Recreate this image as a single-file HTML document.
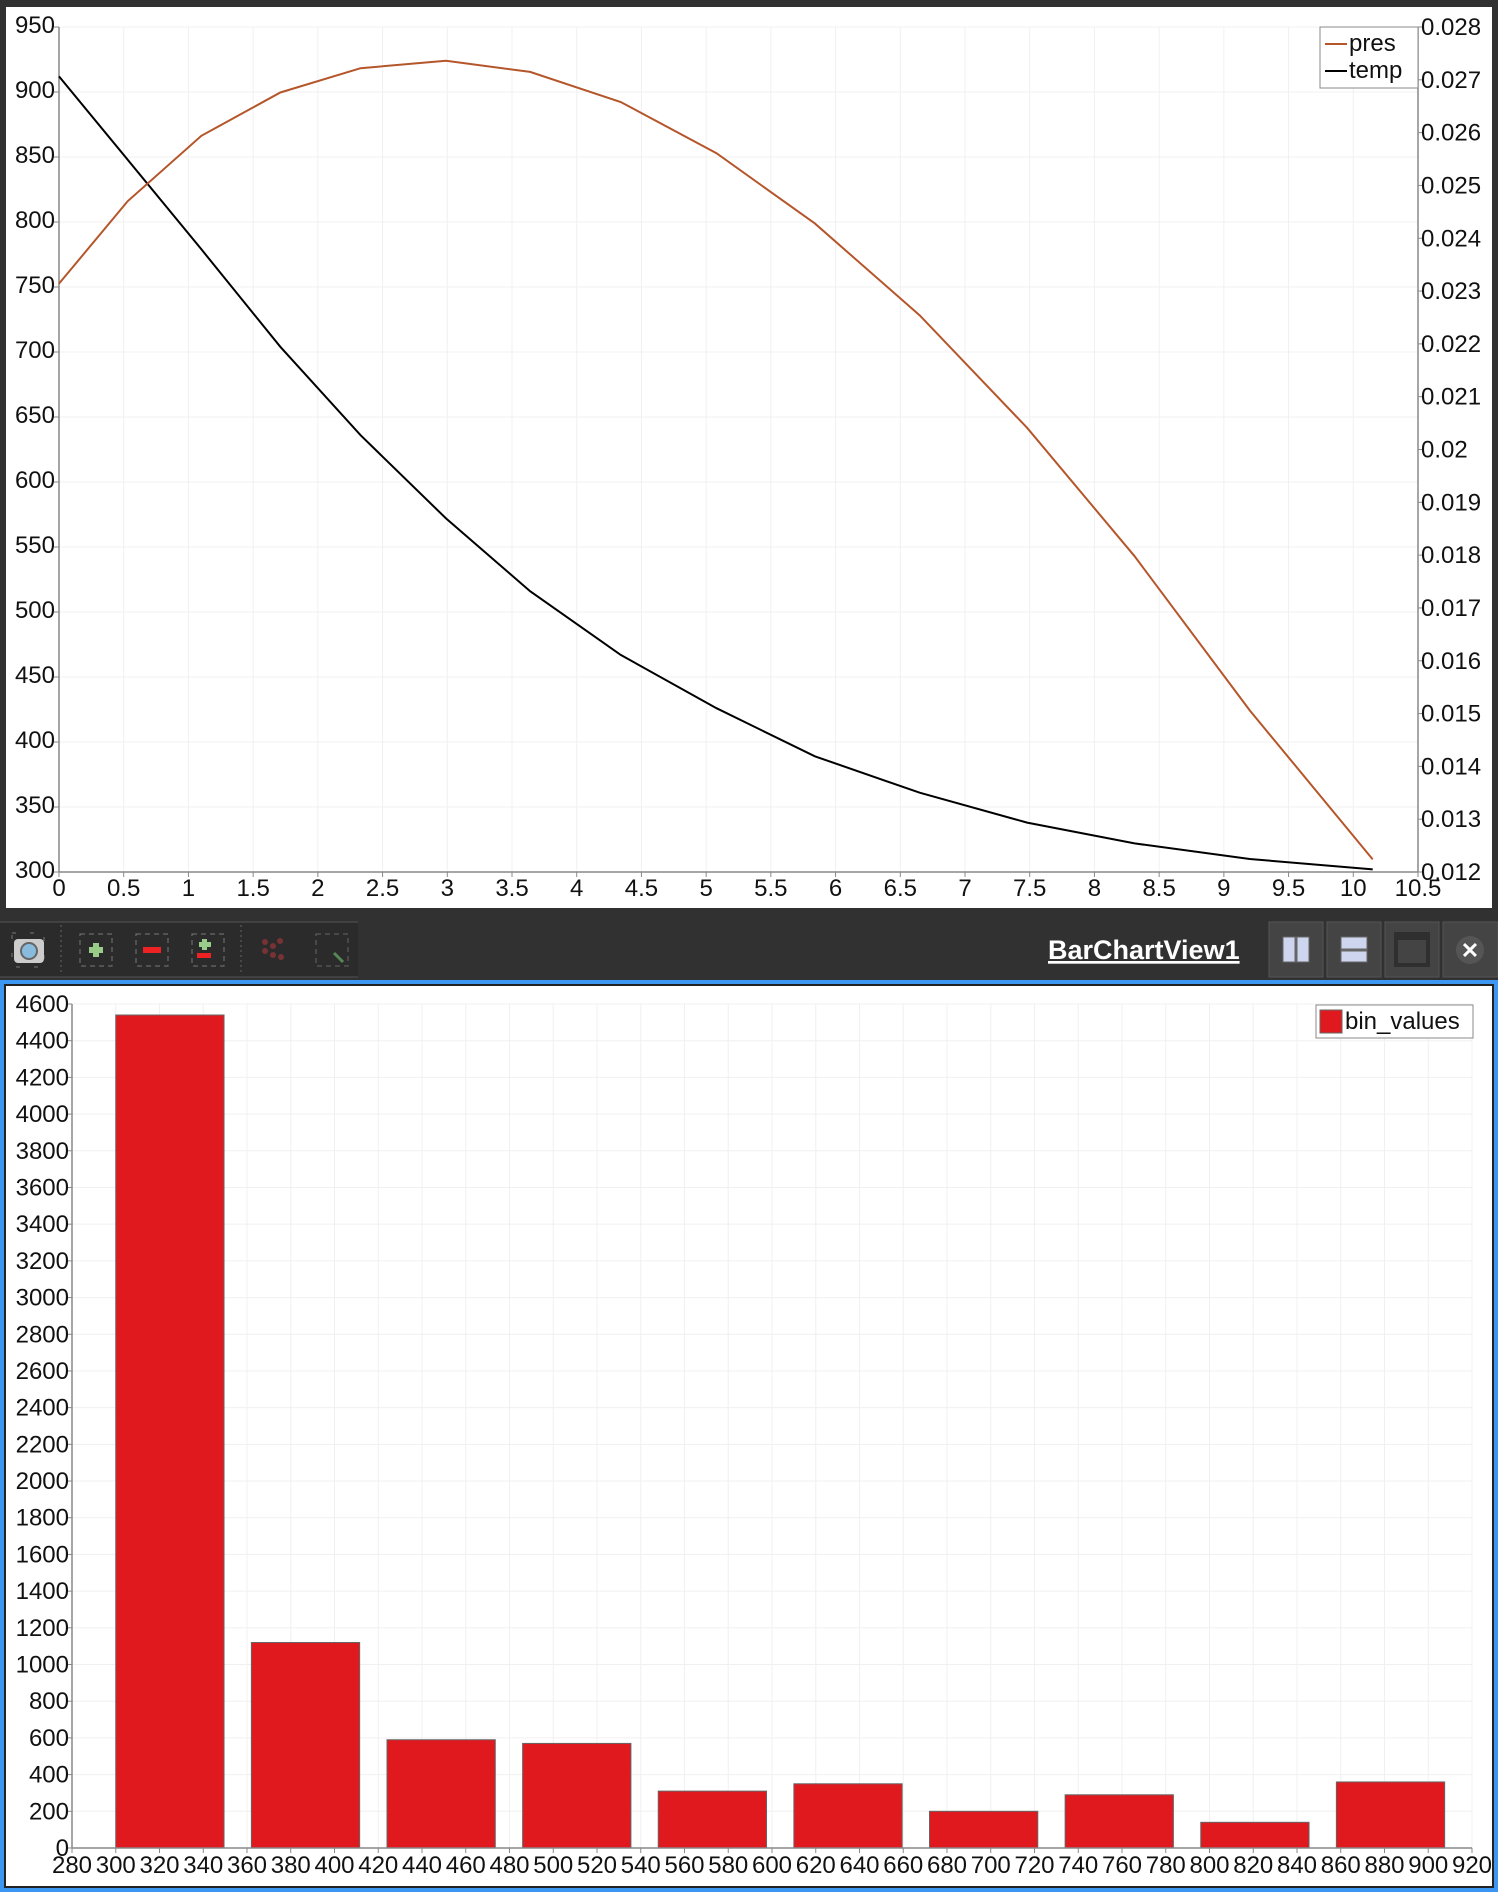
<!DOCTYPE html>
<html><head><meta charset="utf-8"><style>
body{margin:0;width:1498px;height:1892px;background:#313131;position:relative;overflow:hidden;font-family:"Liberation Sans",sans-serif}
svg{position:absolute;left:0;top:0}
text{font-family:"Liberation Sans",sans-serif;font-size:24px;fill:#111}
</style></head><body>
<svg width="1498" height="1892">
<rect x="6" y="7" width="1486" height="901" fill="#fff"/>
<g id="lc"></g>
<g>
<rect x="0" y="922" width="358" height="56" fill="#2b2b2b"/>
<line x1="0" y1="922" x2="358" y2="922" stroke="#555"/><line x1="0" y1="977" x2="358" y2="977" stroke="#555"/>
<g><rect x="12" y="933" width="32" height="34" fill="none" stroke="#777" stroke-dasharray="4,14"/><rect x="14" y="939" width="30" height="24" rx="4" fill="#ccc"/><circle cx="29" cy="951" r="8" fill="#8bd" stroke="#666" stroke-width="2"/></g>
<line x1="61" y1="925" x2="61" y2="975" stroke="#666" stroke-dasharray="2,3"/>
<g><rect x="80" y="934" width="32" height="32" fill="none" stroke="#777" stroke-dasharray="5,4"/><rect x="89" y="947" width="14" height="6" fill="#9c8"/><rect x="93" y="943" width="6" height="14" fill="#9c8"/></g>
<g><rect x="136" y="934" width="32" height="32" fill="none" stroke="#777" stroke-dasharray="5,4"/><rect x="143" y="947" width="18" height="6" fill="#e22"/></g>
<g><rect x="192" y="934" width="32" height="32" fill="none" stroke="#777" stroke-dasharray="5,4"/><rect x="199" y="942" width="12" height="5" fill="#9c8"/><rect x="202" y="939" width="5" height="11" fill="#9c8"/><rect x="197" y="953" width="14" height="5" fill="#e22"/></g>
<line x1="241" y1="925" x2="241" y2="975" stroke="#666" stroke-dasharray="2,3"/>
<g><circle cx="265" cy="942" r="3" fill="#733"/><circle cx="273" cy="946" r="3" fill="#733"/><circle cx="280" cy="941" r="3" fill="#733"/><circle cx="265" cy="951" r="3" fill="#733"/><circle cx="273" cy="955" r="3" fill="#733"/><circle cx="281" cy="957" r="3" fill="#733"/></g>
<g><rect x="316" y="934" width="32" height="32" fill="none" stroke="#666" stroke-dasharray="5,4"/><path d="M343 962 L334 953" stroke="#585" stroke-width="3"/></g>
<text x="1048" y="959" style="fill:#fff;font-weight:bold;font-size:27px;text-decoration:underline">BarChartView1</text>
<g><rect x="1269" y="922" width="54" height="55" fill="#444" stroke="#555"/><rect x="1283" y="937" width="26" height="25" fill="#cdd6ee" stroke="#666"/><line x1="1296" y1="937" x2="1296" y2="962" stroke="#666" stroke-width="3"/></g>
<g><rect x="1327" y="922" width="54" height="55" fill="#444" stroke="#555"/><rect x="1341" y="937" width="26" height="25" fill="#cdd6ee" stroke="#666"/><line x1="1341" y1="950" x2="1367" y2="950" stroke="#666" stroke-width="3"/></g>
<g><rect x="1385" y="922" width="54" height="55" fill="#444" stroke="#555"/><rect x="1394" y="932" width="36" height="35" fill="#2f2f2f"/><rect x="1398" y="940" width="28" height="23" fill="#444"/></g>
<g><rect x="1443" y="922" width="55" height="55" fill="#444" stroke="#555"/><circle cx="1470" cy="950" r="14" fill="#555"/><text x="1470" y="958" text-anchor="middle" style="fill:#fff;font-weight:bold;font-size:22px">✕</text></g>
</g>
<rect x="0" y="980" width="1498" height="912" fill="#3d97f2"/>
<rect x="4" y="984" width="1490" height="904" fill="#222"/>
<rect x="6" y="986" width="1486" height="900" fill="#fff"/>
<g id="bc"></g>
</svg>
<script>
// ---- line chart data ----
const lineX=[0,0.53,1.1,1.71,2.33,2.99,3.64,4.34,5.08,5.84,6.65,7.48,8.31,9.2,10.15];
const tempVals=[912,848,779,704,636,572,516,467,426,389,361,338,322,310,302];
const presVals=[0.02314,0.0247,0.02594,0.02676,0.02722,0.02736,0.02715,0.02658,0.02561,0.02428,0.02254,0.02041,0.01798,0.01506,0.01224];
const xTicks=["0","0.5","1","1.5","2","2.5","3","3.5","4","4.5","5","5.5","6","6.5","7","7.5","8","8.5","9","9.5","10","10.5"];
const yLeftTicks=["300","350","400","450","500","550","600","650","700","750","800","850","900","950"];
const yRightTicks=["0.012","0.013","0.014","0.015","0.016","0.017","0.018","0.019","0.02","0.021","0.022","0.023","0.024","0.025","0.026","0.027","0.028"];
// ---- bar chart data ----
const binStarts=[300,362,424,486,548,610,672,734,796,858];
const binValues=[4540,1120,590,570,310,350,200,290,140,360];
const binWidth=49.5;
const barXTicks=["280","300","320","340","360","380","400","420","440","460","480","500","520","540","560","580","600","620","640","660","680","700","720","740","760","780","800","820","840","860","880","900","920"];
const barYTicks=["0","200","400","600","800","1000","1200","1400","1600","1800","2000","2200","2400","2600","2800","3000","3200","3400","3600","3800","4000","4200","4400","4600"];

const NS="http://www.w3.org/2000/svg";
function mk(p,t,a){const e=document.createElementNS(NS,t);for(const k in a)e.setAttribute(k,a[k]);p.appendChild(e);return e;}
const L={x0:59,x1:1418,y0:872,y1:27};
const lx=v=>L.x0+(v-0)/(10.5)*(L.x1-L.x0);
const ly=v=>L.y0-(v-300)/(650)*(L.y0-L.y1);
const ry=v=>L.y0-(v-0.012)/(0.016)*(L.y0-L.y1);
const lc=document.getElementById('lc');
xTicks.forEach(t=>{const x=lx(+t);
 const g=mk(lc,'line',{x1:x,y1:L.y1,x2:x,y2:L.y0,stroke:'#f0f0f0'});
 
 
 mk(lc,'line',{x1:x,y1:L.y0,x2:x,y2:L.y0+5,stroke:'#888'});
 const e=mk(lc,'text',{x:x,y:L.y0+24,'text-anchor':'middle'});e.textContent=t;
 
 });
yLeftTicks.forEach(t=>{const y=ly(+t);
 mk(lc,'line',{x1:L.x0,y1:y,x2:L.x1,y2:y,stroke:'#f0f0f0'});
 mk(lc,'line',{x1:L.x0-5,y1:y,x2:L.x0,y2:y,stroke:'#888'});
 const e=mk(lc,'text',{x:L.x0-4,y:y+6,'text-anchor':'end'});e.textContent=t;
 
 });
yRightTicks.forEach(t=>{const y=ry(+t);
 mk(lc,'line',{x1:L.x1,y1:y,x2:L.x1+5,y2:y,stroke:'#888'});
 const e=mk(lc,'text',{x:L.x1+3,y:y+8});e.textContent=t;
 
 });
mk(lc,'line',{x1:L.x0,y1:L.y1,x2:L.x0,y2:L.y0,stroke:'#888','stroke-width':1.5});
mk(lc,'line',{x1:L.x1,y1:L.y1,x2:L.x1,y2:L.y0,stroke:'#888','stroke-width':1.5});
mk(lc,'line',{x1:L.x0,y1:L.y0,x2:L.x1,y2:L.y0,stroke:'#888','stroke-width':1.5});
const tp=mk(lc,'polyline',{points:lineX.map((x,i)=>lx(x)+','+ly(tempVals[i])).join(' '),fill:'none',stroke:'#000','stroke-width':2});


const pp=mk(lc,'polyline',{points:lineX.map((x,i)=>lx(x)+','+ry(presVals[i])).join(' '),fill:'none',stroke:'#b5562a','stroke-width':2});


const lg=mk(lc,'g',{});


mk(lg,'rect',{x:1320,y:27,width:98,height:61,fill:'#fff',stroke:'#888'});
mk(lg,'line',{x1:1325,y1:44,x2:1347,y2:44,stroke:'#b5562a','stroke-width':2});
mk(lg,'line',{x1:1325,y1:71,x2:1347,y2:71,stroke:'#000','stroke-width':2});
let e=mk(lg,'text',{x:1349,y:51});e.textContent='pres';
e=mk(lg,'text',{x:1349,y:78});e.textContent='temp';
const B={x0:72,x1:1472,y0:1848,y1:1004};
const bx=v=>B.x0+(v-280)/640*(B.x1-B.x0);
const by=v=>B.y0-v/4600*(B.y0-B.y1);
const bc=document.getElementById('bc');
barXTicks.forEach(t=>{const x=bx(+t);
 mk(bc,'line',{x1:x,y1:B.y1,x2:x,y2:B.y0,stroke:'#f0f0f0'});
 mk(bc,'line',{x1:x,y1:B.y0,x2:x,y2:B.y0+5,stroke:'#888'});
 const e=mk(bc,'text',{x:x,y:B.y0+25,'text-anchor':'middle'});e.textContent=t;
 
 });
barYTicks.forEach(t=>{const y=by(+t);
 mk(bc,'line',{x1:B.x0,y1:y,x2:B.x1,y2:y,stroke:'#f0f0f0'});
 mk(bc,'line',{x1:B.x0-5,y1:y,x2:B.x0,y2:y,stroke:'#888'});
 const e=mk(bc,'text',{x:B.x0-3,y:y+8,'text-anchor':'end'});e.textContent=t;
 
 });
binStarts.forEach((s,i)=>{
 const r=mk(bc,'rect',{x:bx(s),y:by(binValues[i]),width:bx(s+binWidth)-bx(s),height:B.y0-by(binValues[i]),fill:'#e0191f',stroke:'#666','stroke-width':1});
 
 });
mk(bc,'line',{x1:B.x0,y1:B.y1,x2:B.x0,y2:B.y0,stroke:'#888','stroke-width':1.5});
mk(bc,'line',{x1:B.x0,y1:B.y0,x2:B.x1,y2:B.y0,stroke:'#888','stroke-width':1.5});
const bl=mk(bc,'g',{});


mk(bl,'rect',{x:1316,y:1005,width:157,height:33,fill:'#fff',stroke:'#888'});
mk(bl,'rect',{x:1320,y:1010,width:22,height:23,fill:'#e0191f',stroke:'#666'});
e=mk(bl,'text',{x:1345,y:1029});e.textContent='bin_values';
</script>
</body></html>
